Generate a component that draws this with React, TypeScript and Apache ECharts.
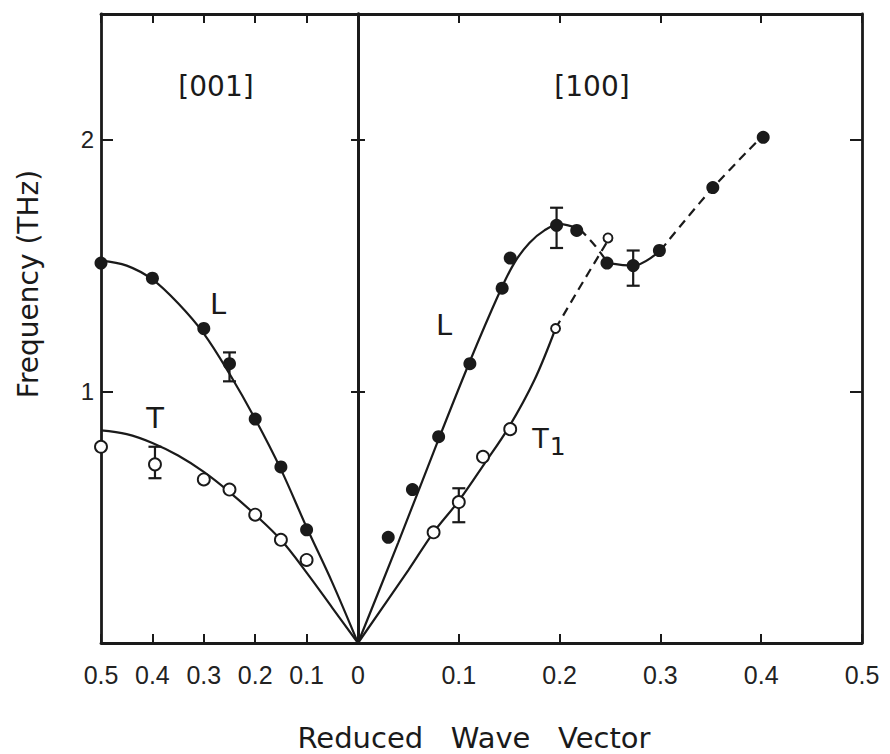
import React, { useEffect, useRef } from "react";
import * as echarts from "echarts";

// ---- axes ----
const xMin = 0;
const xMax = 0.5;
const xStep = 0.1;
const yMin = 0;
const yMax = 2.5;
const yStep = 1;
const yLabelled = [1, 2];

// ---- [001] panel (left) : theory curves ----
const l001Curve: number[][] = [
  [0, 0], [0.05, 0.24], [0.1, 0.46], [0.15, 0.69], [0.2, 0.89], [0.25, 1.07],
  [0.3, 1.23], [0.35, 1.35], [0.4, 1.445], [0.45, 1.5], [0.5, 1.52],
];
const t001Curve: number[][] = [
  [0, 0], [0.05, 0.14], [0.1, 0.28], [0.15, 0.41], [0.2, 0.51], [0.25, 0.6],
  [0.3, 0.68], [0.35, 0.745], [0.4, 0.795], [0.45, 0.83], [0.5, 0.845],
];
// ---- [001] measured points ----
const l001Points: number[][] = [
  [0.5, 1.51], [0.4, 1.45], [0.3, 1.25], [0.25, 1.11], [0.2, 0.89], [0.15, 0.7], [0.1, 0.45],
];
const t001Points: number[][] = [
  [0.5, 0.78], [0.395, 0.71], [0.3, 0.65], [0.25, 0.61], [0.2, 0.51], [0.15, 0.41], [0.1, 0.33],
];
const err001: number[][] = [
  [0.25, 1.04, 1.155],
  [0.395, 0.655, 0.78],
];

// ---- [100] panel (right) : curves ----
const l100SolidA: number[][] = [
  [0, 0], [0.04, 0.4], [0.08, 0.81], [0.11, 1.11], [0.14, 1.39], [0.155, 1.51],
  [0.17, 1.59], [0.185, 1.64], [0.2, 1.665], [0.22, 1.645],
];
const l100DashA: number[][] = [[0.22, 1.645], [0.235, 1.58], [0.248, 1.51]];
const l100SolidB: number[][] = [[0.248, 1.51], [0.273, 1.5], [0.3, 1.56]];
const l100DashB: number[][] = [[0.3, 1.56], [0.35, 1.8], [0.4, 2.01]];
const t100Solid: number[][] = [
  [0, 0], [0.05, 0.29], [0.075, 0.44], [0.1, 0.565], [0.125, 0.71], [0.15, 0.86],
  [0.175, 1.045], [0.196, 1.25],
];
const t100Dash: number[][] = [[0.196, 1.25], [0.218, 1.4], [0.248, 1.6]];
// ---- [100] measured points ----
const l100Points: number[][] = [
  [0.03, 0.42], [0.054, 0.61], [0.08, 0.82], [0.111, 1.11], [0.143, 1.41], [0.151, 1.53],
  [0.197, 1.66], [0.217, 1.64], [0.247, 1.51], [0.273, 1.5], [0.299, 1.56], [0.352, 1.81],
  [0.402, 2.01],
];
const t100Points: number[][] = [[0.075, 0.44], [0.1, 0.56], [0.124, 0.74], [0.151, 0.85]];
const t100SmallPoints: number[][] = [[0.196, 1.25], [0.248, 1.61]];
const err100: number[][] = [
  [0.197, 1.57, 1.73],
  [0.273, 1.42, 1.56],
  [0.1, 0.48, 0.615],
];

const INK = "#1a1a1a";
const SANS = "'Liberation Sans', Arial, sans-serif";
const WIDE = "'DejaVu Sans', sans-serif";

function fmt(v: number) {
  return v === 0 ? "0" : v.toFixed(1);
}

function xAxisCfg(grid: number, pos: "bottom" | "top", inverse: boolean, labels: boolean, showZero: boolean) {
  return {
    type: "value",
    gridIndex: grid,
    position: pos,
    min: xMin,
    max: xMax,
    interval: xStep,
    inverse,
    axisLine: { show: true, onZero: false, lineStyle: { color: INK, width: 2.8 } },
    axisTick: { show: true, inside: true, length: 9, lineStyle: { color: INK, width: 2 } },
    axisLabel: labels
      ? {
          show: true,
          margin: 19,
          color: "#222",
          fontSize: 25,
          fontFamily: SANS,
          formatter: (v: number) => (v === 0 && !showZero ? "" : fmt(v)),
        }
      : { show: false },
    splitLine: { show: false },
  };
}

function yAxisCfg(grid: number, pos: "left" | "right", inside: boolean, len: number, labels: boolean) {
  return {
    type: "value",
    gridIndex: grid,
    position: pos,
    min: yMin,
    max: yMax,
    interval: yStep,
    axisLine: { show: true, onZero: false, lineStyle: { color: INK, width: 2.8 } },
    axisTick: { show: true, inside, length: len, lineStyle: { color: INK, width: 2 } },
    axisLabel: labels
      ? {
          show: true,
          margin: 7,
          color: "#222",
          fontSize: 24,
          fontFamily: SANS,
          formatter: (v: number) => (yLabelled.indexOf(v) >= 0 ? String(v) : ""),
        }
      : { show: false },
    splitLine: { show: false },
  };
}

function curve(data: number[][], xi: number, yi: number, dashed: boolean) {
  return {
    type: "line",
    xAxisIndex: xi,
    yAxisIndex: yi,
    data,
    smooth: 0.35,
    symbol: "none",
    silent: true,
    z: 2,
    lineStyle: { color: INK, width: 2.2, type: dashed ? [9, 6] : "solid" },
  };
}

function dots(data: number[][], xi: number, yi: number, open: boolean, size: number) {
  return {
    type: "scatter",
    xAxisIndex: xi,
    yAxisIndex: yi,
    data,
    symbol: "circle",
    symbolSize: size,
    silent: true,
    z: 5,
    itemStyle: open
      ? { color: "#ffffff", borderColor: INK, borderWidth: 1.9, opacity: 1 }
      : { color: INK, borderColor: INK, borderWidth: 0, opacity: 1 },
  };
}

function errBars(data: number[][], xi: number, yi: number) {
  return {
    type: "custom",
    xAxisIndex: xi,
    yAxisIndex: yi,
    data,
    silent: true,
    z: 4,
    encode: { x: 0, y: [1, 2] },
    renderItem: (_p: any, api: any) => {
      const x = api.value(0);
      const a = api.coord([x, api.value(1)]);
      const b = api.coord([x, api.value(2)]);
      const w = 6.5;
      const st = { stroke: INK, lineWidth: 2.2 };
      return {
        type: "group",
        children: [
          { type: "line", shape: { x1: a[0], y1: a[1], x2: b[0], y2: b[1] }, style: st },
          { type: "line", shape: { x1: a[0] - w, y1: a[1], x2: a[0] + w, y2: a[1] }, style: st },
          { type: "line", shape: { x1: b[0] - w, y1: b[1], x2: b[0] + w, y2: b[1] }, style: st },
        ],
      };
    },
  };
}

function label(text: string, x: number, y: number, size: number, family: string, rotation = 0, rich?: any) {
  return {
    type: "text",
    x,
    y,
    rotation,
    silent: true,
    z: 10,
    style: {
      text,
      fill: INK,
      fontSize: size,
      fontFamily: family,
      align: "center",
      verticalAlign: "middle",
      textAlign: "center",
      textVerticalAlign: "middle",
      rich,
    },
  };
}

export default function App() {
  const ref = useRef<HTMLDivElement>(null);
  useEffect(() => {
    if (!ref.current) return;
    const chart = echarts.init(ref.current, null, { renderer: "svg" });
    const option: any = {
      animation: false,
      backgroundColor: "#ffffff",
      grid: [
        { left: 101, top: 14, width: 257, height: 629, containLabel: false, outerBoundsMode: "none" },
        { left: 358, top: 14, width: 504, height: 629, containLabel: false, outerBoundsMode: "none" },
      ],
      xAxis: [
        xAxisCfg(0, "bottom", true, true, true),
        xAxisCfg(0, "top", true, false, false),
        xAxisCfg(1, "bottom", false, true, false),
        xAxisCfg(1, "top", false, false, false),
      ],
      yAxis: [
        yAxisCfg(0, "left", true, 12, true),
        yAxisCfg(0, "right", false, 7, false),
        yAxisCfg(1, "left", false, 7, false),
        yAxisCfg(1, "right", true, 12, false),
      ],
      series: [
        curve(l001Curve, 0, 0, false),
        curve(t001Curve, 0, 0, false),
        curve(l100SolidA, 2, 2, false),
        curve(l100DashA, 2, 2, true),
        curve(l100SolidB, 2, 2, false),
        curve(l100DashB, 2, 2, true),
        curve(t100Solid, 2, 2, false),
        curve(t100Dash, 2, 2, true),
        errBars(err001, 0, 0),
        errBars(err100, 2, 2),
        dots(l001Points, 0, 0, false, 13),
        dots(t001Points, 0, 0, true, 12),
        dots(l100Points, 2, 2, false, 13),
        dots(t100Points, 2, 2, true, 12),
        dots(t100SmallPoints, 2, 2, true, 9),
      ],
      graphic: [
        label("[001]", 216, 86, 28, WIDE),
        label("[100]", 592, 86, 28, WIDE),
        label("L", 218, 304, 29, WIDE),
        label("T", 155, 418, 29, WIDE),
        label("L", 444, 325, 29, WIDE),
        label("{t|T}{s|1}", 549, 442, 26, WIDE, 0, {
          t: { fontSize: 27, fontFamily: WIDE, fill: INK, verticalAlign: "top", lineHeight: 34 },
          s: { fontSize: 25, fontFamily: WIDE, fill: INK, verticalAlign: "bottom", lineHeight: 34, padding: [8, 0, 0, 1] },
        }),
        label("Frequency (THz)", 28, 284, 28, WIDE, Math.PI / 2),
        label("Reduced   Wave   Vector", 474, 738, 29, WIDE),
      ],
    };
    chart.setOption(option);
    return () => chart.dispose();
  }, []);
  return (
    <div
      ref={ref}
      style={{ position: "fixed", left: 0, top: 0, width: 890, height: 754, background: "#ffffff" }}
    />
  );
}
